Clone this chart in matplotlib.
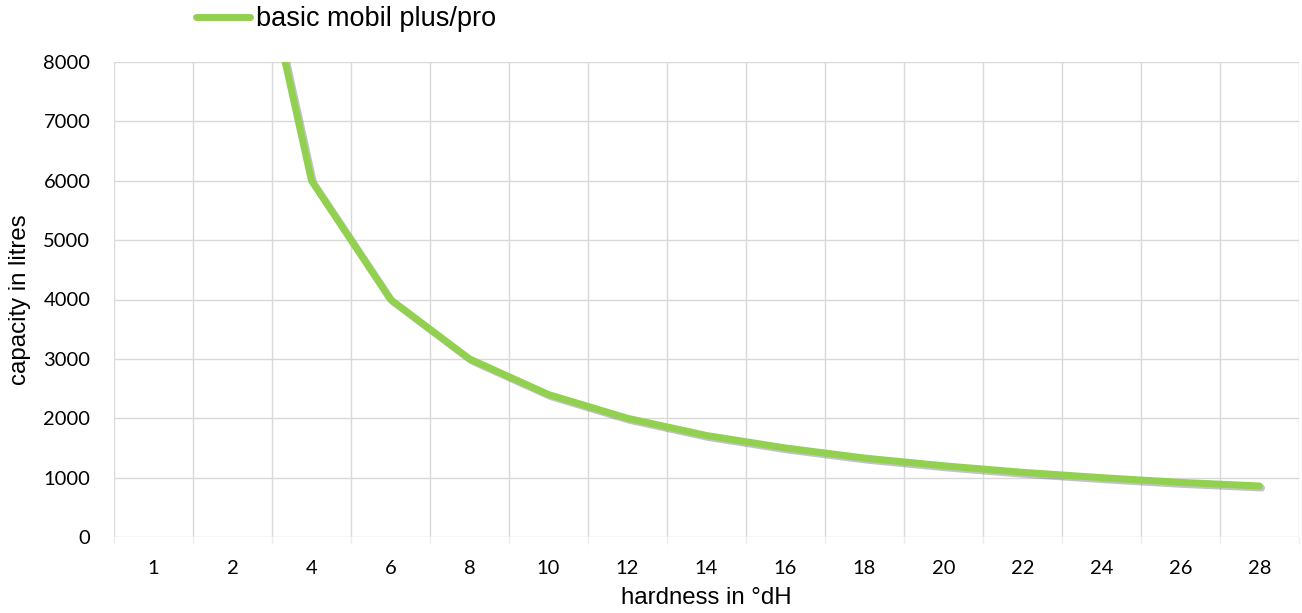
import matplotlib
matplotlib.use("Agg")
import matplotlib.pyplot as plt
import matplotlib.patheffects as pe
import numpy as np

categories = ["1", "2", "4", "6", "8", "10", "12", "14", "16", "18", "20", "22", "24", "26", "28"]
capacity = [24000, 12000, 6000, 4000, 3000, 2400, 2000, 1710, 1500, 1330, 1200, 1090, 1000, 920, 860]
series_name = "basic mobil plus/pro"
yticks = [0, 1000, 2000, 3000, 4000, 5000, 6000, 7000, 8000]

fig = plt.figure(figsize=(13.02, 6.13), dpi=100)
ax = fig.add_axes([114/1302, 76/613, (1299-114)/1302, (537-62)/613])

x = np.arange(len(categories))
grid_c = "#d9d9d9"
line, = ax.plot(x, capacity, color="#92D050", lw=5, solid_capstyle="round",
                solid_joinstyle="round", label=series_name, zorder=3,
                path_effects=[pe.SimpleLineShadow(offset=(1.5, -1.5), shadow_color="#555555", alpha=0.35),
                              pe.Normal()])

ax.set_xlim(-0.5, len(categories) - 0.5)
ax.set_ylim(0, 8000)
ax.set_yticks(yticks)
ax.set_yticklabels([str(v) for v in yticks])
ax.set_xticks(x)
ax.set_xticklabels(categories)
ax.set_xticks(np.arange(len(categories) + 1) - 0.5, minor=True)

for s in ax.spines.values():
    s.set_visible(False)

ax.grid(axis="y", which="major", color=grid_c, lw=1.0)
ax.grid(axis="x", which="minor", color=grid_c, lw=1.0)
ax.grid(axis="x", which="major", visible=False)
ax.set_axisbelow(True)

ax.tick_params(axis="both", which="major", length=0, labelsize=14.5, labelcolor="black")
ax.tick_params(axis="x", which="major", pad=16.5)
ax.tick_params(axis="y", which="major", pad=17)
ax.tick_params(axis="x", which="minor", length=5, color="#eeeeee", width=1.0)
ax.tick_params(axis="y", which="minor", length=0)
for lab in ax.get_xticklabels() + ax.get_yticklabels():
    lab.set_fontfamily("Lato")

ax.set_xlabel("hardness in °dH", fontsize=17.3, family="Liberation Sans", labelpad=7)
ax.set_ylabel("capacity in litres", fontsize=17.3, family="Liberation Sans", labelpad=9)

leg = fig.legend(handles=[line], labels=[series_name], loc="center left",
                 bbox_to_anchor=(196/1302, 1 - 19/613), frameon=False,
                 prop={"family": "Liberation Sans", "size": 19.5},
                 handlelength=2.0, handletextpad=0.22, borderaxespad=0, borderpad=0)
for h in leg.legend_handles:
    h.set_path_effects([pe.Normal()])

fig.savefig("out.png", dpi=100)
